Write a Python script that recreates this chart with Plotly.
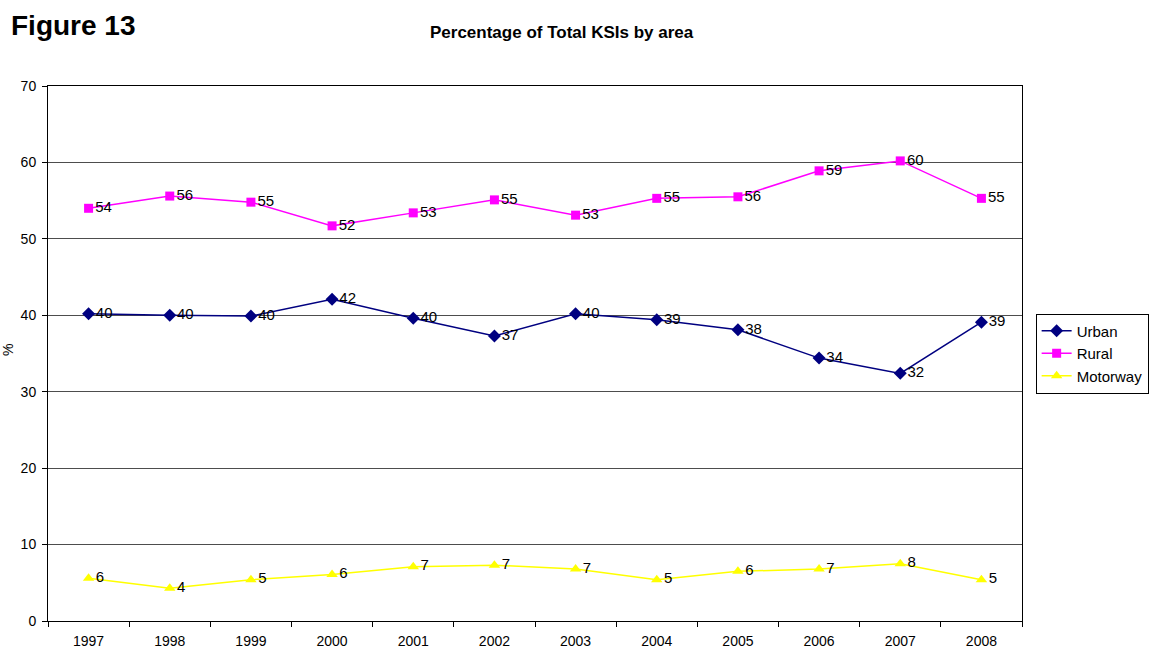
import plotly.graph_objects as go

years = ["1997", "1998", "1999", "2000", "2001", "2002",
         "2003", "2004", "2005", "2006", "2007", "2008"]
urban = [40.2, 40.0, 39.9, 42.1, 39.6, 37.3, 40.2, 39.4, 38.1, 34.4, 32.4, 39.1]
rural = [54.0, 55.6, 54.8, 51.7, 53.4, 55.1, 53.1, 55.3, 55.5, 58.9, 60.2, 55.3]
motorway = [5.6, 4.3, 5.4, 6.1, 7.1, 7.3, 6.8, 5.4, 6.5, 6.8, 7.5, 5.4]

series = [
    ("Urban", urban, "#000080", "diamond", 10),
    ("Rural", rural, "#FF00FF", "square", 9),
    ("Motorway", motorway, "#FFFF00", "triangle-up", 10),
]

FONT = "Liberation Sans, Arial"

fig = go.Figure()
for name, vals, color, symbol, size in series:
    fig.add_trace(go.Scatter(
        x=years, y=vals, name=name, mode="lines+markers+text",
        line=dict(color=color, width=1.5),
        marker=dict(symbol=symbol, size=size, color=color),
        text=[f"{v:.0f}" for v in vals],
        textposition="middle right",
        textfont=dict(family=FONT, size=15, color="#000000"),
        cliponaxis=False,
    ))

W, H = 1158, 652
left, right, top, bottom = 48, 1022, 86, 621
pw, ph = right - left, bottom - top

fig.update_layout(
    width=W, height=H,
    margin=dict(l=left, r=W - right, t=top, b=H - bottom, pad=0, autoexpand=False),
    paper_bgcolor="white", plot_bgcolor="white",
    font=dict(family=FONT, size=14, color="#000000"),
    showlegend=True,
    legend=dict(
        x=1.014, y=0.5, xanchor="left", yanchor="middle",
        bordercolor="#000000", borderwidth=1,
        font=dict(size=15), tracegroupgap=0,
        itemwidth=30,
    ),
    xaxis=dict(
        type="category", range=[-0.5, 11.5], automargin=False,
        showgrid=False, showline=True, linecolor="#000000", linewidth=1,
        mirror=True, ticks="outside", tickson="boundaries", ticklen=5,
        tickcolor="#000000", tickfont=dict(size=14), ticklabelstandoff=7,
    ),
    yaxis=dict(
        range=[0, 70], dtick=10, automargin=False,
        showgrid=True, gridcolor="#4d4d4d", gridwidth=1,
        showline=True, linecolor="#000000", linewidth=1, mirror=True,
        ticks="outside", ticklen=5, tickcolor="#000000",
        tickfont=dict(size=14), zeroline=False, ticklabelstandoff=3,
    ),
    annotations=[
        dict(text="<b>Figure 13</b>", xref="paper", yref="paper",
             x=(9 - left) / pw, y=1 + (86 - 8) / ph,
             xanchor="left", yanchor="top", showarrow=False,
             font=dict(size=28, family=FONT)),
        dict(text="<b>Percentage of Total KSIs by area</b>", xref="paper", yref="paper",
             x=(562 - left) / pw, y=1 + (86 - 33) / ph,
             xanchor="center", yanchor="middle", showarrow=False,
             font=dict(size=17, family=FONT)),
        dict(text="%", xref="paper", yref="paper",
             x=(8 - left) / pw, y=(bottom - 350) / ph,
             xanchor="center", yanchor="middle", showarrow=False, textangle=-90,
             font=dict(size=14, family=FONT)),
    ],
)

fig.write_html("out.html")
